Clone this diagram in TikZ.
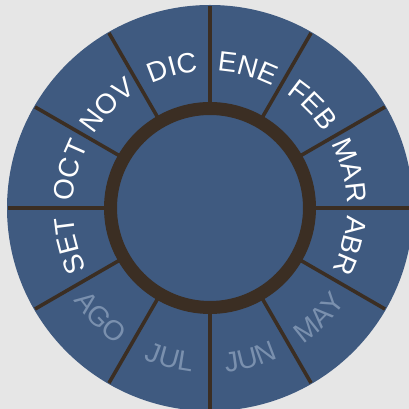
\documentclass[tikz,border=0pt]{standalone}
\usepackage{fontspec}
\setmainfont{Liberation Sans}
\usetikzlibrary{decorations.text}
\definecolor{bgcol}{HTML}{E6E6E6}
\definecolor{wheelblue}{HTML}{3F5A80}
\definecolor{ringbrown}{HTML}{3B2E23}
\definecolor{fadedtxt}{HTML}{7A90AE}
\newcommand\lblfont{\fontsize{28}{28}\selectfont}
\tikzset{
  divider/.style={draw=ringbrown, line width=3.6pt},
  ringline/.style={draw=ringbrown, line width=13pt},
  outlbl/.style={decorate, decoration={text along path, text align=center,
      text={|\lblfont\color{white}|#1}}},
  inlbl/.style={decorate, decoration={text along path, text align=center,
      text={|\lblfont\color{fadedtxt}|#1}}},
}
\begin{document}
\begin{tikzpicture}[x=1pt,y=1pt]
\useasboundingbox (0,0) rectangle (409,409);
\fill[bgcol] (0,0) rectangle (409,409);
\clip (0,0) rectangle (409,409);
\begin{scope}[shift={(210,201)}]
  \coordinate (c) at (0,0);
  \fill[wheelblue] (c) circle[radius=203];
  \foreach \a in {0,30,...,330}
    \draw[divider] (\a:99) -- (\a:202);
  \draw[ringline] (c) circle[radius=99.5];
  % outward labels (clockwise paths)
  \path[outlbl=ENE] (90:137) arc[start angle=90,end angle=60,radius=137];
  \path[outlbl=FEB] (60:137) arc[start angle=60,end angle=30,radius=137];
  \path[outlbl=MAR] (30:137) arc[start angle=30,end angle=0,radius=137];
  \path[outlbl=ABR] (0:137) arc[start angle=0,end angle=-30,radius=137];
  \path[outlbl=SET] (-150:137) arc[start angle=-150,end angle=-180,radius=137];
  \path[outlbl=OCT] (180:137) arc[start angle=180,end angle=150,radius=137];
  \path[outlbl=NOV] (150:137) arc[start angle=150,end angle=120,radius=137];
  \path[outlbl=DIC] (120:137) arc[start angle=120,end angle=90,radius=137];
  % inward labels (counter-clockwise paths)
  \path[inlbl=MAY] (-60:165) arc[start angle=-60,end angle=-30,radius=165];
  \path[inlbl=JUN] (-90:165) arc[start angle=-90,end angle=-60,radius=165];
  \path[inlbl=JUL] (-120:165) arc[start angle=-120,end angle=-90,radius=165];
  \path[inlbl=AGO] (-150:165) arc[start angle=-150,end angle=-120,radius=165];
\end{scope}
\end{tikzpicture}
\end{document}
